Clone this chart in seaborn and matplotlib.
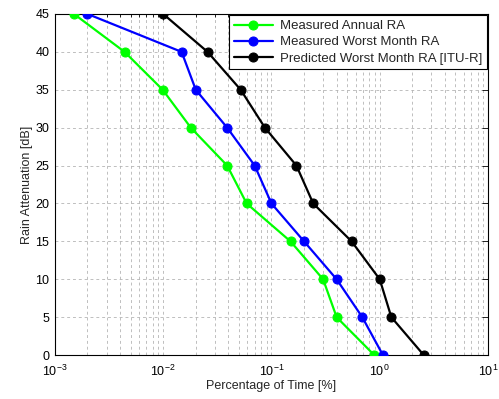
import numpy as np
import pandas as pd
import matplotlib
matplotlib.use("Agg")
import matplotlib.pyplot as plt
import seaborn as sns
from matplotlib.ticker import LogLocator, NullFormatter, MultipleLocator

attenuation = [0, 5, 10, 15, 20, 25, 30, 35, 40, 45]
annual = [0.89, 0.40, 0.30, 0.15, 0.059, 0.039, 0.018, 0.0099, 0.0044, 0.0015]
worst_meas = [1.07, 0.69, 0.40, 0.20, 0.10, 0.070, 0.039, 0.020, 0.0148, 0.0020]
worst_itu = [2.55, 1.28, 1.0, 0.55, 0.243, 0.17, 0.087, 0.052, 0.0257, 0.010]
labels = ["Measured Annual RA", "Measured Worst Month RA", "Predicted Worst Month RA [ITU-R]"]
colors = ["#00FF00", "#0000FF", "#000000"]

sns.set_style("white")
plt.rcParams["font.family"] = ["Liberation Sans", "DejaVu Sans"]
plt.rcParams["mathtext.fontset"] = "custom"
plt.rcParams["mathtext.rm"] = "Liberation Sans"
plt.rcParams["mathtext.it"] = "Liberation Sans"

fig = plt.figure(figsize=(4.99, 3.99), dpi=100)
ax = fig.add_axes([0.110, 0.110, 0.868, 0.855])

for vals, lab, col in zip([annual, worst_meas, worst_itu], labels, colors):
    df = pd.DataFrame({"x": vals, "y": attenuation})
    sns.lineplot(data=df, x="x", y="y", ax=ax, color=col, marker="o", markersize=6.5,
                 markeredgecolor=col, linewidth=1.6, label=lab, sort=False,
                 estimator=None, zorder=3)

ax.set_xscale("log")
ax.set_xlim(1e-3, 10)
ax.set_ylim(0, 45)
ax.yaxis.set_major_locator(MultipleLocator(5))
ax.xaxis.set_major_locator(LogLocator(base=10, numticks=10))
ax.xaxis.set_minor_locator(LogLocator(base=10, subs=np.arange(2, 10), numticks=50))
ax.xaxis.set_minor_formatter(NullFormatter())

gridkw = dict(color="#b4b4b4", linestyle=(0, (3.5, 3.5)), linewidth=0.6)
ax.grid(True, which="major", axis="both", **gridkw)
ax.grid(True, which="minor", axis="x", **gridkw)
ax.set_axisbelow(True)

for s in ax.spines.values():
    s.set_visible(True)
    s.set_color("black")
    s.set_linewidth(0.8)

ax.tick_params(which="both", direction="in", top=True, right=True, labelsize=9, colors="black")
ax.tick_params(which="major", length=4, width=0.6)
ax.tick_params(which="minor", length=2, width=0.6)
ax.tick_params(axis="x", which="major", pad=6)
ax.tick_params(axis="y", which="major", pad=4)

ax.set_xlabel("Percentage of Time [%]", fontsize=9, labelpad=1)
ax.set_ylabel("Rain Attenuation [dB]", fontsize=9, labelpad=2)

leg = ax.legend(loc="upper right", fontsize=9.5, frameon=True, fancybox=False,
                edgecolor="black", framealpha=1, borderaxespad=0.1,
                handlelength=3.0, labelspacing=0.3, borderpad=0.35, handletextpad=0.5)
leg.get_frame().set_linewidth(0.8)

fig.savefig("out.png", dpi=100)
